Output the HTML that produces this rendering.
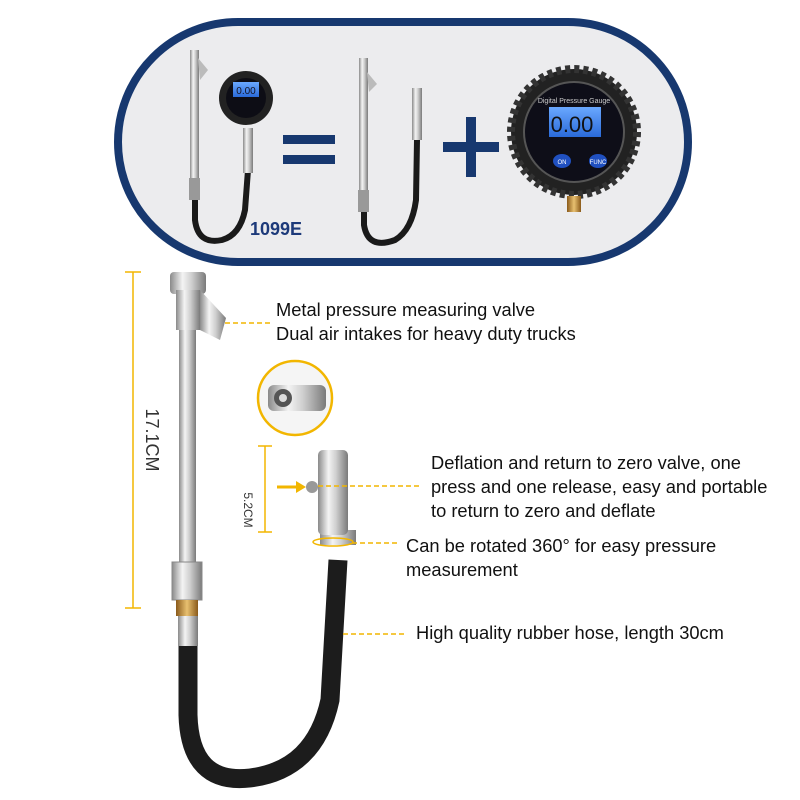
<!DOCTYPE html>
<html><head><meta charset="utf-8"><style>
html,body{margin:0;padding:0;background:#fff;}
body{width:800px;height:800px;position:relative;overflow:hidden;font-family:"Liberation Sans",sans-serif;}
.t{position:absolute;font-size:18.3px;color:#111;line-height:24px;}
</style></head><body>
<svg width="800" height="800" style="position:absolute;left:0;top:0">
<defs>
<linearGradient id="metal" x1="0" x2="1" y1="0" y2="0">
<stop offset="0" stop-color="#8a8a8a"/><stop offset="0.35" stop-color="#f4f4f4"/><stop offset="0.6" stop-color="#cfcfcf"/><stop offset="1" stop-color="#7a7a7a"/></linearGradient>
<linearGradient id="brass" x1="0" x2="1"><stop offset="0" stop-color="#8a5a1a"/><stop offset="0.5" stop-color="#e8c070"/><stop offset="1" stop-color="#8a5a1a"/></linearGradient>
<linearGradient id="lcd" x1="0" y1="0" x2="0" y2="1"><stop offset="0" stop-color="#6aa8ff"/><stop offset="1" stop-color="#2a6ad8"/></linearGradient>
</defs>
<rect x="118" y="22" width="570" height="240" rx="120" fill="#ececee" stroke="#17386f" stroke-width="8"/>
<rect x="190" y="50" width="9" height="130" fill="url(#metal)"/>
<path d="M198 58 L208 70 L200 80Z" fill="#bbb"/>
<rect x="189" y="178" width="11" height="22" fill="#999"/>
<path d="M195 200 L195 220 Q198 245 222 240 Q240 235 245 210 L248 170" fill="none" stroke="#1a1a1a" stroke-width="6"/>
<rect x="243" y="128" width="10" height="45" fill="url(#metal)"/>
<circle cx="246" cy="98" r="27" fill="#222"/><circle cx="246" cy="98" r="20" fill="#0d0d15"/>
<rect x="233" y="82" width="26" height="15" fill="url(#lcd)"/>
<text x="246" y="94" font-size="10" text-anchor="middle" fill="#112">0.00</text>
<text x="250" y="235" font-size="18" font-weight="bold" fill="#1d3a7a">1099E</text>
<rect x="283" y="135" width="52" height="9" fill="#17386f"/>
<rect x="283" y="155" width="52" height="9" fill="#17386f"/>
<rect x="359" y="58" width="9" height="135" fill="url(#metal)"/>
<path d="M367 72 L377 84 L369 92Z" fill="#bbb"/>
<rect x="358" y="190" width="11" height="22" fill="#999"/>
<path d="M364 212 L364 225 Q368 250 395 240 Q412 230 416 200 L417 140" fill="none" stroke="#1a1a1a" stroke-width="6"/>
<rect x="412" y="88" width="10" height="52" fill="url(#metal)"/>
<rect x="443" y="142" width="56" height="10" fill="#17386f"/>
<rect x="466" y="117" width="10" height="60" fill="#17386f"/>
<circle cx="574" cy="132" r="63" fill="#222" stroke="#333" stroke-width="8" stroke-dasharray="5 4"/>
<circle cx="574" cy="132" r="50" fill="#0e0e18" stroke="#555" stroke-width="2"/>
<text x="574" y="103" font-size="7" fill="#ccc" text-anchor="middle">Digital Pressure Gauge</text>
<rect x="549" y="107" width="52" height="30" fill="url(#lcd)"/>
<text x="572" y="132" font-size="22" fill="#111" text-anchor="middle">0.00</text>
<ellipse cx="562" cy="161" rx="9" ry="7" fill="#2050c0"/><ellipse cx="598" cy="161" rx="9" ry="7" fill="#2050c0"/>
<text x="562" y="164" font-size="6" fill="#fff" text-anchor="middle">ON</text><text x="598" y="164" font-size="6" fill="#fff" text-anchor="middle">FUNC</text>
<rect x="567" y="196" width="14" height="16" fill="url(#brass)"/>
<g stroke="#f2b600" stroke-width="1.5"><line x1="133" y1="272" x2="133" y2="608"/><line x1="125" y1="272" x2="141" y2="272"/><line x1="125" y1="608" x2="141" y2="608"/>
<line x1="265" y1="446" x2="265" y2="532"/><line x1="258" y1="446" x2="272" y2="446"/><line x1="258" y1="532" x2="272" y2="532"/></g>
<text transform="translate(146,440) rotate(90)" font-size="18" fill="#333" text-anchor="middle">17.1CM</text>
<text transform="translate(244,510) rotate(90)" font-size="12" fill="#333" text-anchor="middle">5.2CM</text>
<rect x="170" y="272" width="36" height="22" rx="4" fill="url(#metal)"/>
<path d="M200 290 L226 318 L220 340 L200 330Z" fill="url(#metal)"/>
<rect x="176" y="290" width="24" height="40" fill="url(#metal)"/>
<rect x="179" y="330" width="17" height="235" fill="url(#metal)"/>
<rect x="172" y="562" width="30" height="38" fill="url(#metal)" stroke="#888"/>
<rect x="176" y="600" width="22" height="16" fill="url(#brass)"/>
<rect x="178" y="616" width="20" height="30" fill="url(#metal)"/>
<path d="M188 646 L188 715 Q190 785 250 778 Q315 770 330 700 L338 560" fill="none" stroke="#1c1c1c" stroke-width="19"/>
<rect x="320" y="530" width="36" height="15" fill="url(#metal)"/>
<rect x="318" y="450" width="30" height="85" rx="5" fill="url(#metal)"/>
<circle cx="312" cy="487" r="6" fill="#999"/>
<ellipse cx="333" cy="542" rx="20" ry="4" fill="none" stroke="#f2b600" stroke-width="1.5"/>
<path d="M277 487 L296 487" stroke="#f2b600" stroke-width="3"/><path d="M296 481 L306 487 L296 493Z" fill="#f2b600"/>
<circle cx="295" cy="398" r="37" fill="#f5f5f5" stroke="#f2b600" stroke-width="2.5"/>
<rect x="268" y="385" width="58" height="26" rx="6" fill="url(#metal)"/>
<circle cx="283" cy="398" r="9" fill="#555"/><circle cx="283" cy="398" r="4" fill="#ddd"/>
<g stroke="#f2b600" stroke-width="1.5" stroke-dasharray="5 3">
<line x1="225" y1="323" x2="270" y2="323"/>
<line x1="318" y1="486" x2="420" y2="486"/>
<line x1="352" y1="543" x2="398" y2="543"/>
<line x1="343" y1="634" x2="406" y2="634"/>
</g>
</svg>
<div class="t" style="left:276px;top:298px">Metal pressure measuring valve<br>Dual air intakes for heavy duty trucks</div>
<div class="t" style="left:431px;top:451px">Deflation and return to zero valve, one<br>press and one release, easy and portable<br>to return to zero and deflate</div>
<div class="t" style="left:406px;top:534px">Can be rotated 360° for easy pressure<br>measurement</div>
<div class="t" style="left:416px;top:621px">High quality rubber hose, length 30cm</div>
</body></html>
